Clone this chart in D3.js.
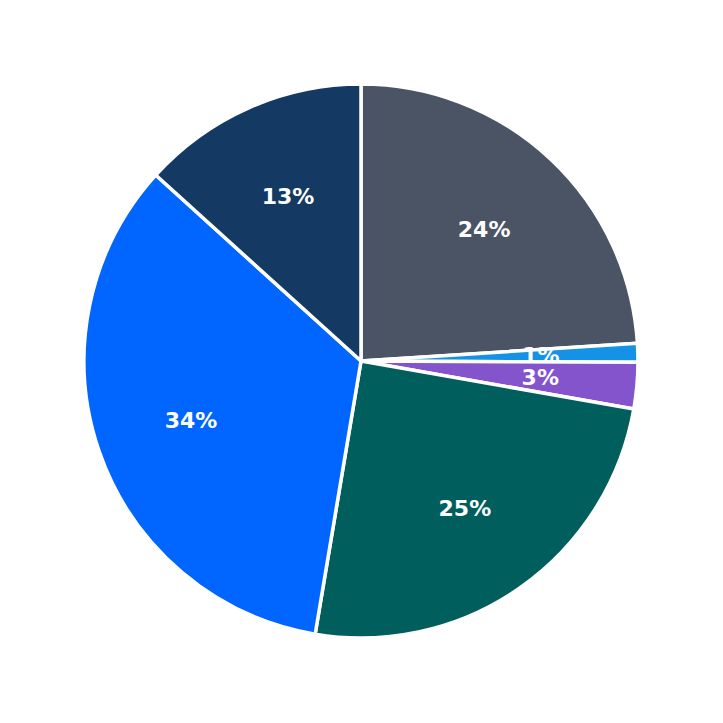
<!DOCTYPE html>
<html>
<head>
<meta charset="utf-8">
<script src="https://cdn.jsdelivr.net/npm/d3@7"></script>
<style>
  html, body { margin: 0; padding: 0; background: #fff; }
</style>
</head>
<body>
<div id="chart"></div>
<script>
// slice data, clockwise from 12 o'clock
const categories = ['A', 'B', 'C', 'D', 'E', 'F'];
const values = [24.0, 1.1, 2.7, 24.9, 34.1, 13.3];
const labels = ['24%', '1%', '3%', '25%', '34%', '13%'];
const colors = ['#4a5464', '#1592e6', '#8454cc', '#005e5c', '#0066ff', '#143a63'];

const W = 723, H = 723;
const cx = 361, cy = 361, radius = 277;

const svg = d3.select('#chart').append('svg')
  .attr('width', W).attr('height', H)
  .append('g')
  .attr('transform', `translate(${cx},${cy})`);

const data = categories.map((c, i) => ({ key: c, value: values[i], label: labels[i], color: colors[i] }));

const pie = d3.pie().value(d => d.value).sort(null);
const arcs = pie(data);

const arcGen = d3.arc().innerRadius(0).outerRadius(radius);
const labelArc = d3.arc().innerRadius(180).outerRadius(180);

svg.selectAll('.slice')
  .data(arcs)
  .join('path')
  .attr('class', 'slice')
  .attr('d', arcGen)
  .attr('fill', d => d.data.color)
  .attr('stroke', '#fff')
  .attr('stroke-width', 3.5)
  .attr('stroke-linejoin', 'round');

svg.selectAll('.lbl')
  .data(arcs)
  .join('text')
  .attr('class', 'lbl')
  .attr('transform', d => `translate(${labelArc.centroid(d)})`)
  .attr('text-anchor', 'middle')
  .attr('dominant-baseline', 'central')
  .attr('font-family', 'DejaVu Sans, sans-serif')
  .attr('font-weight', 'bold')
  .attr('font-size', '22px')
  .attr('fill', '#fff')
  .text(d => d.data.label);
</script>
</body>
</html>
